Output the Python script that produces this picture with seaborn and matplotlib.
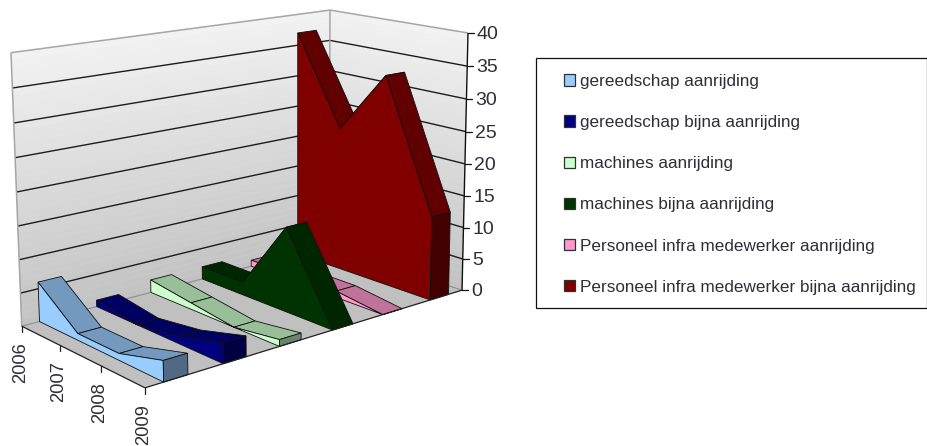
import numpy as np
import seaborn as sns
import matplotlib.pyplot as plt
from matplotlib.patches import Patch, Rectangle

years = ['2006', '2007', '2008', '2009']
value_ticks = [0, 5, 10, 15, 20, 25, 30, 35, 40]

gereedschap_aanrijding = [6, 1, 1, 3]
gereedschap_bijna = [1, 0, 1, 3]
machines_aanrijding = [2, 1, 0, 1]
machines_bijna = [2, 2, 13, 0]
personeel_aanrijding = [1, 1, 1, 0]
personeel_bijna = [37, 23, 33, 13]

labels = ['gereedschap aanrijding', 'gereedschap bijna aanrijding', 'machines aanrijding',
          'machines bijna aanrijding', 'Personeel infra medewerker aanrijding',
          'Personeel infra medewerker bijna aanrijding']
series = [gereedschap_aanrijding, gereedschap_bijna, machines_aanrijding,
          machines_bijna, personeel_aanrijding, personeel_bijna]
colors = ['#99ccff', '#000080', '#ccffcc', '#003300', '#ff99cc', '#800000']

sns.set_theme(style='white')
plt.rcParams['font.family'] = ['Liberation Sans', 'DejaVu Sans']
TEXT = '#2e2e3a'

# the old Excel 3D view: box corners (series, year, value) as they land on the picture
box = [(0, 0, 0), (6, 0, 0), (6, 3, 0), (0, 3, 0), (0, 0, 40), (6, 0, 40), (6, 3, 40)]
seen = [(21.7, 326), (329, 246), (462, 290), (145, 388), (11, 52.7), (330, 10), (468, 33)]
rows, rhs = [], []
for (a, b, c), (px, py) in zip(box, seen):
    rows.append([a, b, c, 1, 0, 0, 0, 0, -px * a, -px * b, -px * c])
    rows.append([0, 0, 0, 0, a, b, c, 1, -py * a, -py * b, -py * c])
    rhs += [px, py]
cam = np.append(np.linalg.lstsq(np.array(rows, float), np.array(rhs, float), rcond=None)[0], 1).reshape(3, 4)


def project(s, y, z):
    p = cam @ np.array([s, y, z, 1.0])
    return p[0] / p[2], p[1] / p[2]


def face(ax, pts, color, zorder=1, **kw):
    xy = [project(*p) for p in pts]
    ax.fill([q[0] for q in xy], [q[1] for q in xy], color=color, zorder=zorder, **kw)


def line(ax, a, b, color, lw=0.8, zorder=2):
    pa, pb = project(*a), project(*b)
    ax.plot([pa[0], pb[0]], [pa[1], pb[1]], color=color, lw=lw, solid_capstyle='butt', zorder=zorder)


def shade(color, f):
    return tuple(c * f for c in sns.desaturate(color, 1))


fig = plt.figure(figsize=(9.28, 4.46), dpi=100)
ax = fig.add_axes([0, 0, 1, 1])
ax.set_xlim(0, 928)
ax.set_ylim(446, 0)
ax.axis('off')

# floor and the two walls, grey fading out to the top
face(ax, [(0, 0, 0), (6, 0, 0), (6, 3, 0), (0, 3, 0)], '#c0c0c0', lw=0)
for z in range(40):
    g = 0.76 + 0.19 * (z + 0.5) / 40
    face(ax, [(0, 0, z), (6, 0, z), (6, 0, z + 1), (0, 0, z + 1)], (g, g, g), lw=0.3, ec=(g, g, g))
    face(ax, [(6, 0, z), (6, 3, z), (6, 3, z + 1), (6, 0, z + 1)], (g, g, g), lw=0.3, ec=(g, g, g))

for z in value_ticks[1:-1]:
    line(ax, (0, 0, z), (6, 0, z), '#1c1c1c', 1.0)
    line(ax, (6, 0, z), (6, 3, z), '#1c1c1c', 1.0)
line(ax, (0, 0, 40), (6, 0, 40), '#a6a6a6', 1.1)
line(ax, (6, 0, 40), (6, 3, 40), '#a6a6a6', 1.1)
line(ax, (0, 0, 0), (0, 0, 40), '#a6a6a6', 1.1)
line(ax, (6, 0, 0), (6, 0, 40), '#a6a6a6', 1.1)
line(ax, (0, 0, 0), (6, 0, 0), '#8c8c8c', 0.8)
line(ax, (6, 0, 0), (6, 3, 0), '#8c8c8c', 0.8)

# ribbons, last series first so the nearer ones cover it
edge = dict(ec='#101010', lw=0.6)
order = 3
for i in range(len(series) - 1, -1, -1):
    vals, col = series[i], colors[i]
    s0, s1 = i + 0.3, i + 0.7
    for y in range(len(years) - 1):
        face(ax, [(s0, y, vals[y]), (s1, y, vals[y]), (s1, y + 1, vals[y + 1]), (s0, y + 1, vals[y + 1])],
             shade(col, 0.75), zorder=order, **edge)
    side = [(s0, y, vals[y]) for y in range(len(years))] + [(s0, 3, 0), (s0, 0, 0)]
    face(ax, side, col, zorder=order + 1, **edge)
    face(ax, [(s0, 3, 0), (s1, 3, 0), (s1, 3, vals[3]), (s0, 3, vals[3])], shade(col, 0.52), zorder=order + 1, **edge)
    order += 2

# value axis on the right
line(ax, (6, 3, 0), (6, 3, 40), '#101010', 1.0)
for z in value_ticks:
    px, py = project(6, 3, z)
    ax.plot([px, px + 6], [py, py], color='#101010', lw=0.9, zorder=2)
    ax.text(px + 6 + 3, py + 1.5, str(z), fontsize=14, color=TEXT, ha='left', va='center')

# year axis on the floor
line(ax, (0, 0, 0), (0, 3, 0), '#202020', 0.9, zorder=order)
line(ax, (0, 3, 0), (6, 3, 0), '#202020', 0.9, zorder=order)
for y, name in enumerate(years):
    px, py = project(0, y, 0)
    ax.plot([px, px], [py, py + 6], color='#202020', lw=0.9)
    ax.text(px - 1, py + 16, name, fontsize=13.2, color=TEXT, rotation=90, ha='center', va='top')

ax.add_patch(Rectangle((536, 57.5), 391, 250, fc='white', ec='#101010', lw=0.9))
handles = [Patch(fc=c, ec='#303030', lw=0.9, label=n) for c, n in zip(colors, labels)]
ax.legend(handles=handles, loc='upper left', bbox_to_anchor=(564, 74), bbox_transform=ax.transData,
          frameon=False, fontsize=12.3, labelcolor=TEXT, handlelength=0.65, handleheight=0.65,
          handletextpad=0.3, labelspacing=1.53, borderpad=0, borderaxespad=0)

fig.savefig('out.png', dpi=100)
